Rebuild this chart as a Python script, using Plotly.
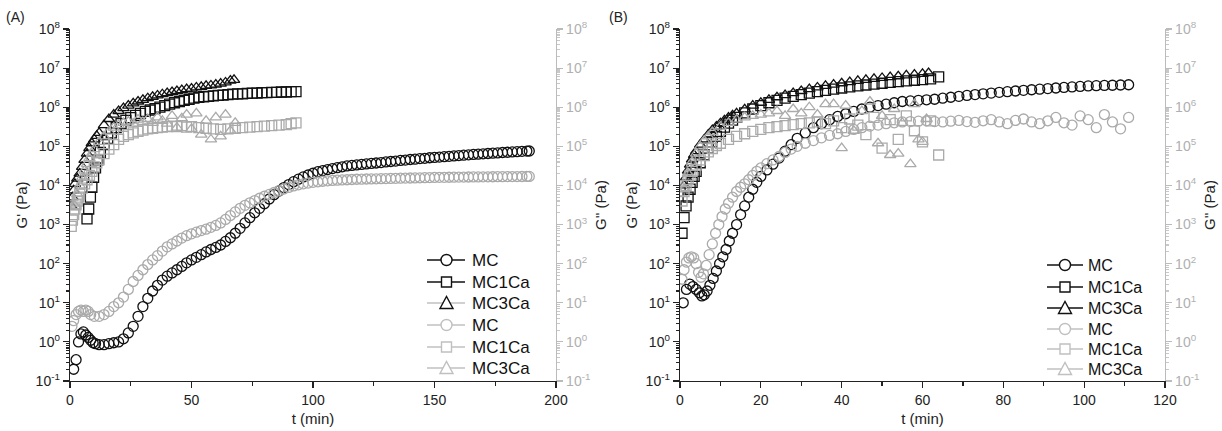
import plotly.graph_objects as go

# ---------------- Panel A data ----------------
a_mc_t = [1.5, 2.5, 3.5, 4.5, 5.5, 6.5, 7.5, 8.5, 9.5, 10.5, 12, 14, 16, 18, 20, 22, 24, 26, 28, 30, 32, 34, 36, 38, 40, 42, 44, 46, 48, 50, 52, 54, 56, 58, 60, 62, 64, 66, 68, 70, 72, 74, 76, 78, 80, 82, 84, 86, 88, 90, 92, 94, 96, 98, 100, 102, 104, 106, 108, 110, 112, 114, 116, 118, 120, 122, 124, 126, 128, 130, 132, 134, 136, 138, 140, 142, 144, 146, 148, 150, 152, 154, 156, 158, 160, 162, 164, 166, 168, 170, 172, 174, 176, 178, 180, 182, 184, 186, 188, 189]
a_mc_g1 = [0.2, 0.35, 1.0, 1.6, 1.8, 1.5, 1.3, 1.1, 0.95, 0.9, 0.85, 0.85, 0.9, 0.95, 1.0, 1.2, 1.7, 2.5, 4.5, 8, 13, 20, 28, 38, 48, 58, 70, 85, 105, 125, 145, 170, 200, 230, 260, 300, 370, 460, 600, 800, 1100, 1500, 2000, 2600, 3400, 4500, 5800, 7200, 8800, 10500, 12500, 14500, 16500, 18500, 20500, 22500, 24000, 25500, 27000, 28500, 30000, 31500, 32500, 33500, 34500, 35500, 36500, 37500, 38500, 40000, 41000, 42000, 43500, 44500, 46000, 47000, 48500, 49500, 51000, 52000, 53000, 54500, 55500, 57000, 58000, 59500, 60500, 62000, 63000, 64500, 65500, 67000, 68000, 69500, 70500, 72000, 73000, 74500, 75500, 76000]

a_mc_t2 = [0.8, 1.5, 2.5, 3.5, 4.5, 5.5, 6.5, 7.5, 8.5, 10, 12, 14, 16, 18, 20, 22, 24, 26, 28, 30, 32, 34, 36, 38, 40, 42, 44, 46, 48, 50, 52, 54, 56, 58, 60, 62, 64, 66, 68, 70, 72, 74, 76, 78, 80, 82, 84, 86, 88, 90, 92, 94, 96, 98, 100, 102, 104, 106, 108, 110, 112, 114, 116, 118, 120, 122, 124, 126, 128, 130, 132, 134, 136, 138, 140, 142, 144, 146, 148, 150, 152, 154, 156, 158, 160, 162, 164, 166, 168, 170, 172, 174, 176, 178, 180, 182, 184, 186, 188, 189]
a_mc_g2 = [2.5, 3.5, 5, 6, 6.5, 6, 6.5, 6, 5, 4.5, 4.5, 5, 6, 8, 10, 14, 22, 35, 50, 70, 95, 125, 160, 210, 270, 320, 380, 450, 520, 580, 640, 700, 760, 850, 950, 1100, 1350, 1700, 2100, 2600, 3100, 3600, 4100, 4700, 5300, 5900, 6600, 7300, 8100, 8900, 9700, 10400, 11000, 11500, 12000, 12400, 12800, 13100, 13400, 13600, 13800, 14000, 14200, 14400, 14500, 14600, 14700, 14800, 14900, 15000, 15100, 15200, 15300, 15400, 15500, 15600, 15700, 15800, 15900, 16000, 16100, 16150, 16200, 16300, 16350, 16400, 16450, 16500, 16550, 16600, 16650, 16700, 16750, 16800, 16850, 16900, 16900, 16950, 17000, 17000]

a_mc1_t = [7, 7.7, 8.4, 9, 9.7, 10.5, 11.5, 12.5, 14, 15.5, 17, 19, 21, 23, 25, 27, 29, 31, 33, 35, 37, 39, 41, 43, 45, 47, 49, 51, 53, 55, 57, 59, 61, 63, 65, 67, 69, 71, 73, 75, 77, 79, 81, 83, 85, 87, 89, 91, 93]
a_mc1_g1 = [1400, 2500, 5000, 9000, 16000, 28000, 45000, 70000, 110000, 160000, 220000, 300000, 380000, 460000, 540000, 620000, 700000, 780000, 850000, 920000, 1000000, 1100000, 1200000, 1300000, 1400000, 1500000, 1600000, 1700000, 1800000, 1850000, 1900000, 1950000, 2000000, 2050000, 2100000, 2150000, 2200000, 2200000, 2250000, 2300000, 2300000, 2350000, 2350000, 2400000, 2400000, 2450000, 2450000, 2500000, 2500000]

a_mc3_t = [0.5, 1, 1.5, 2, 3, 4, 5, 6, 7, 8, 9, 10, 11, 12, 14, 16, 18, 20, 22, 24, 26, 28, 30, 32, 34, 36, 38, 40, 42, 44, 46, 48, 50, 52, 54, 56, 58, 60, 62, 64, 66, 67.5]
a_mc3_g1 = [3000, 5000, 7500, 11000, 15000, 20000, 30000, 45000, 65000, 90000, 120000, 150000, 185000, 220000, 350000, 500000, 650000, 800000, 950000, 1100000, 1250000, 1400000, 1550000, 1700000, 1850000, 2000000, 2150000, 2300000, 2450000, 2600000, 2750000, 2900000, 3000000, 3200000, 3300000, 3500000, 3600000, 3800000, 4000000, 4300000, 4800000, 5000000]

a_mc1_t2 = [0.5, 1, 1.5, 2, 2.5, 3, 3.5, 4, 5, 6, 7, 8, 9, 10, 11, 12, 14, 16, 18, 20, 22, 24, 26, 28, 30, 32, 34, 36, 38, 40, 42, 44, 46, 48, 50, 53, 56, 59, 62, 65, 68, 71, 74, 77, 80, 83, 86, 89, 91, 93]
a_mc1_g2 = [900, 1300, 1800, 2500, 3200, 4000, 5000, 6000, 8500, 11000, 14000, 18000, 23000, 30000, 38000, 46000, 65000, 85000, 110000, 150000, 180000, 200000, 220000, 240000, 260000, 280000, 290000, 300000, 310000, 320000, 330000, 320000, 340000, 310000, 320000, 300000, 290000, 280000, 270000, 280000, 290000, 300000, 310000, 320000, 330000, 340000, 350000, 360000, 380000, 400000]

a_mc3_t2 = [2, 3, 4, 5, 6, 7, 8, 9, 10, 12, 14, 16, 18, 20, 22, 24, 26, 28, 30, 32, 34, 36, 38, 40, 42, 44, 46, 48, 50, 52, 54, 56, 58, 60, 62, 64, 66, 68]
a_mc3_g2 = [3000, 6000, 10000, 16000, 24000, 35000, 50000, 65000, 85000, 130000, 180000, 240000, 300000, 350000, 400000, 430000, 380000, 480000, 420000, 500000, 400000, 550000, 450000, 380000, 600000, 300000, 520000, 650000, 280000, 700000, 200000, 450000, 150000, 550000, 180000, 650000, 250000, 400000]

# ---------------- Panel B data ----------------
b_mc_t = [0.8, 1.6, 2.4, 3.2, 4, 4.8, 5.4, 6, 6.7, 7.4, 8.2, 9, 9.8, 10.6, 11.4, 12.2, 13, 14, 15, 16, 17, 18, 19, 20, 21.5, 23, 24.5, 26, 27.5, 29, 31, 33, 35, 37, 39, 41, 43, 45, 47, 49, 51, 53, 55, 57, 59, 61, 63, 65, 67, 69, 71, 73, 75, 77, 79, 81, 83, 85, 87, 89, 91, 93, 95, 97, 99, 101, 103, 105, 107, 109, 111]
b_mc_g1 = [10, 22, 30, 26, 22, 18, 15, 16, 20, 28, 42, 65, 100, 150, 230, 380, 600, 1000, 1800, 3000, 5000, 8000, 12000, 17000, 25000, 35000, 50000, 75000, 110000, 160000, 220000, 300000, 380000, 480000, 580000, 680000, 780000, 900000, 1000000, 1100000, 1200000, 1300000, 1400000, 1450000, 1500000, 1550000, 1600000, 1700000, 1800000, 1900000, 2000000, 2100000, 2200000, 2300000, 2400000, 2500000, 2600000, 2700000, 2800000, 2900000, 3000000, 3100000, 3200000, 3300000, 3400000, 3500000, 3550000, 3600000, 3650000, 3700000, 3750000]

b_mc_t2 = [0.5, 1, 1.6, 2.2, 2.8, 3.4, 4, 4.6, 5.2, 5.8, 6.5, 7.2, 8, 8.8, 9.6, 10.4, 11.2, 12, 13, 14, 15, 16, 17, 18, 19, 20, 21.5, 23, 24.5, 26, 27.5, 29, 31, 33, 35, 37, 39, 41, 43, 45, 47, 49, 51, 53, 55, 57, 59, 61, 63, 65, 67, 69, 71, 73, 75, 77, 79, 81, 83, 85, 87, 89, 91, 93, 95, 97, 99, 101, 103, 105, 107, 109, 111]
b_mc_g2 = [40, 70, 110, 140, 150, 140, 100, 60, 45, 55, 90, 170, 320, 600, 1000, 1600, 2500, 3500, 5000, 7000, 9000, 11000, 14000, 18000, 23000, 28000, 36000, 45000, 55000, 70000, 85000, 100000, 120000, 140000, 165000, 190000, 210000, 240000, 270000, 300000, 330000, 350000, 380000, 400000, 420000, 430000, 440000, 450000, 430000, 420000, 440000, 460000, 430000, 410000, 450000, 480000, 420000, 380000, 460000, 500000, 420000, 380000, 450000, 550000, 400000, 350000, 600000, 480000, 300000, 650000, 420000, 280000, 550000]

b_mc1_t = [0.5, 1, 1.5, 2, 2.5, 3, 3.5, 4, 5, 6, 7, 8, 9, 10, 11, 12, 13, 14, 16, 18, 20, 22, 24, 26, 28, 30, 32, 34, 36, 38, 40, 42, 44, 46, 48, 50, 52, 54, 56, 58, 60, 62, 64]
b_mc1_g1 = [600, 1500, 3000, 5000, 8000, 12000, 17000, 23000, 38000, 60000, 90000, 130000, 180000, 240000, 310000, 390000, 470000, 550000, 720000, 900000, 1100000, 1300000, 1500000, 1700000, 1900000, 2100000, 2300000, 2500000, 2700000, 2900000, 3100000, 3300000, 3500000, 3700000, 3900000, 4100000, 4300000, 4500000, 4700000, 4900000, 5100000, 5300000, 6000000]

b_mc3_t = [1, 1.5, 2, 2.5, 3, 3.5, 4, 5, 6, 7, 8, 9, 10, 11, 12, 13, 14, 16, 18, 20, 22, 24, 26, 28, 30, 32, 34, 36, 38, 40, 42, 44, 46, 48, 50, 52, 54, 56, 58, 60, 61.5]
b_mc3_g1 = [10000, 16000, 24000, 34000, 46000, 60000, 75000, 110000, 150000, 200000, 260000, 320000, 390000, 460000, 540000, 620000, 700000, 880000, 1100000, 1300000, 1550000, 1800000, 2050000, 2300000, 2600000, 2900000, 3200000, 3500000, 3800000, 4100000, 4400000, 4700000, 5000000, 5300000, 5600000, 5900000, 6200000, 6500000, 6800000, 7100000, 7500000]

b_mc1_t2 = [0.5, 1, 1.5, 2, 2.5, 3, 4, 5, 6, 7, 8, 9, 10, 12, 14, 16, 18, 20, 22, 24, 26, 28, 30, 32, 34, 36, 38, 40, 42, 44, 46, 48, 50, 52, 54, 56, 58, 60, 62, 64]
b_mc1_g2 = [4000, 7000, 10000, 14000, 18000, 23000, 33000, 45000, 58000, 72000, 88000, 105000, 120000, 150000, 180000, 210000, 240000, 270000, 300000, 320000, 340000, 360000, 380000, 400000, 420000, 380000, 450000, 300000, 500000, 350000, 200000, 550000, 90000, 480000, 150000, 600000, 250000, 130000, 450000, 60000]

b_mc3_t2 = [1, 2, 3, 4, 5, 6, 7, 8, 10, 12, 14, 16, 18, 20, 22, 24, 26, 28, 30, 32, 34, 36, 38, 40, 41, 43, 45, 47, 49, 50, 52, 53, 54, 55, 57, 58, 59, 60, 61]
b_mc3_g2 = [8000, 20000, 40000, 65000, 100000, 140000, 180000, 230000, 320000, 400000, 480000, 550000, 600000, 650000, 700000, 800000, 600000, 900000, 700000, 1000000, 650000, 1200000, 1200000, 90000, 1100000, 250000, 800000, 1400000, 120000, 600000, 60000, 900000, 65000, 400000, 35000, 1200000, 150000, 130000, 500000]

series_names = ["MC", "MC1Ca", "MC3Ca"]
legend_labels = series_names + series_names
tick_exps = list(range(-1, 9))

BLACK = "#111111"
GRAY = "#aaaaaa"
LEG_GRAY = "#c0c0c0"
FONT = "Liberation Sans, Arial, sans-serif"
W, H = 1222, 431

fig = go.Figure()

def add(t, g, sym, color, xa, ya):
    fig.add_trace(go.Scatter(
        x=t, y=g, mode="markers", xaxis=xa, yaxis=ya, showlegend=False,
        marker=dict(symbol=sym, size=10, color=color, line=dict(width=1.3, color=color)),
    ))

# Panel A
add(a_mc1_t, a_mc1_g1, "square-open", BLACK, "x", "y")
add(a_mc3_t, a_mc3_g1, "triangle-up-open", BLACK, "x", "y")
add(a_mc_t, a_mc_g1, "circle-open", BLACK, "x", "y")
add(a_mc1_t2, a_mc1_g2, "square-open", GRAY, "x", "y2")
add(a_mc3_t2, a_mc3_g2, "triangle-up-open", GRAY, "x", "y2")
add(a_mc_t2, a_mc_g2, "circle-open", GRAY, "x", "y2")
# Panel B
add(b_mc1_t, b_mc1_g1, "square-open", BLACK, "x2", "y3")
add(b_mc3_t, b_mc3_g1, "triangle-up-open", BLACK, "x2", "y3")
add(b_mc_t, b_mc_g1, "circle-open", BLACK, "x2", "y3")
add(b_mc1_t2, b_mc1_g2, "square-open", GRAY, "x2", "y4")
add(b_mc3_t2, b_mc3_g2, "triangle-up-open", GRAY, "x2", "y4")
add(b_mc_t2, b_mc_g2, "circle-open", GRAY, "x2", "y4")

# ---------------- hand-drawn legends (pixel layout -> paper coords) ----------------
def px(x):
    return x / W

def py(y):
    return 1 - y / H

shapes = []
annotations = []

def legend_block(rows_y, line_x0, line_x1, sym_x, text_x, line_colors, sym_colors, fsize):
    kinds = ["circle", "square", "triangle"] * 2
    for i, yy in enumerate(rows_y):
        lc = line_colors[i]
        sc = sym_colors[i]
        shapes.append(dict(type="line", xref="paper", yref="paper",
                           x0=px(line_x0), x1=px(line_x1), y0=py(yy), y1=py(yy),
                           line=dict(color=lc, width=1.4)))
        r = 5.5
        k = kinds[i]
        if k == "circle":
            shapes.append(dict(type="circle", xref="paper", yref="paper",
                               x0=px(sym_x - r), x1=px(sym_x + r), y0=py(yy + r), y1=py(yy - r),
                               line=dict(color=sc, width=1.4), fillcolor="white"))
        elif k == "square":
            shapes.append(dict(type="rect", xref="paper", yref="paper",
                               x0=px(sym_x - r + 0.5), x1=px(sym_x + r - 0.5),
                               y0=py(yy + r - 0.5), y1=py(yy - r + 0.5),
                               line=dict(color=sc, width=1.4), fillcolor="white"))
        else:
            path = "M %f %f L %f %f L %f %f Z" % (
                px(sym_x - 6.5), py(yy + 5.5), px(sym_x + 6.5), py(yy + 5.5), px(sym_x), py(yy - 6.5))
            shapes.append(dict(type="path", xref="paper", yref="paper", path=path,
                               line=dict(color=sc, width=1.4), fillcolor="white"))
        annotations.append(dict(text=legend_labels[i], x=px(text_x), y=py(yy), xref="paper", yref="paper",
                                xanchor="left", yanchor="middle", showarrow=False,
                                font=dict(family=FONT, size=fsize, color="#111")))

legend_block([260, 282, 303, 325, 347, 368], 427, 465, 446.5, 470,
             [BLACK, BLACK, LEG_GRAY, LEG_GRAY, LEG_GRAY, LEG_GRAY],
             [BLACK, BLACK, BLACK, LEG_GRAY, LEG_GRAY, LEG_GRAY], 17)
legend_block([265, 287, 308, 329, 349, 369], 1047, 1083, 1065, 1086,
             [BLACK, BLACK, BLACK, LEG_GRAY, LEG_GRAY, LEG_GRAY],
             [BLACK, BLACK, BLACK, LEG_GRAY, LEG_GRAY, LEG_GRAY], 16)

annotations += [
    dict(text="(A)", x=px(4), y=py(17), xref="paper", yref="paper",
         xanchor="left", yanchor="middle", showarrow=False,
         font=dict(family=FONT, size=14, color="#222")),
    dict(text="(B)", x=px(607), y=py(17), xref="paper", yref="paper",
         xanchor="left", yanchor="middle", showarrow=False,
         font=dict(family=FONT, size=14, color="#222")),
]

major_vals = [10.0 ** k for k in tick_exps]
major_text = ["10<sup>%d</sup>" % k for k in tick_exps]
minor_vals = [d * 10.0 ** k for k in range(-1, 8) for d in range(2, 10)]

ydomain = [1 - 381 / H, 1 - 29 / H]
xA = [70 / W, 556 / W]
xB = [680 / W, 1165 / W]

def yleft(domain_anchor):
    return dict(
        type="log", range=[-1, 8], domain=ydomain, anchor=domain_anchor,
        tickvals=major_vals, ticktext=major_text, ticks="outside", ticklen=6,
        tickwidth=1.2, tickcolor="#222", showline=True, linecolor="#222", linewidth=1.3,
        showgrid=False, zeroline=False, automargin=False,
        tickfont=dict(family=FONT, size=14, color="#222"),
        minor=dict(tickvals=minor_vals, ticks="outside", ticklen=3, tickcolor="#222", showgrid=False),
        title=dict(text="G' (Pa)", font=dict(family=FONT, size=15, color="#222"), standoff=4),
    )

def yright(overlay, anchor):
    return dict(
        type="log", range=[-1, 8], overlaying=overlay, side="right", anchor=anchor,
        tickvals=major_vals, ticktext=major_text, ticks="outside", ticklen=6,
        tickwidth=1.2, tickcolor="#bbbbbb", showline=True, linecolor="#bbbbbb", linewidth=1.3,
        showgrid=False, zeroline=False, automargin=False,
        tickfont=dict(family=FONT, size=14, color="#b0b0b0"),
        minor=dict(tickvals=minor_vals, ticks="outside", ticklen=3, tickcolor="#c8c8c8", showgrid=False),
        title=dict(text="G'' (Pa)", font=dict(family=FONT, size=15, color="#222"), standoff=6),
    )

def xbottom(domain, anchor, rng, dtick):
    return dict(
        domain=domain, anchor=anchor, range=rng, dtick=dtick, tick0=0,
        ticks="outside", ticklen=6, tickwidth=1.2, tickcolor="#222",
        showline=True, linecolor="#222", linewidth=1.3, showgrid=False, zeroline=False,
        automargin=False,
        tickfont=dict(family=FONT, size=14, color="#222"),
        minor=dict(dtick=dtick / 2, ticks="outside", ticklen=4, tickcolor="#222", showgrid=False),
        title=dict(text="t (min)", font=dict(family=FONT, size=15, color="#222"), standoff=6),
    )

def xtop(overlay, anchor, rng, dtick):
    return dict(
        overlaying=overlay, side="top", anchor=anchor, range=rng, dtick=dtick / 2, tick0=0,
        ticks="inside", ticklen=5, tickwidth=1.2, tickcolor="#222",
        showline=True, linecolor="#222", linewidth=1.3, showgrid=False, zeroline=False,
        showticklabels=False, automargin=False,
    )

fig.update_layout(
    width=W, height=H,
    margin=dict(l=0, r=0, t=0, b=0, autoexpand=False),
    paper_bgcolor="white", plot_bgcolor="white",
    font=dict(family=FONT, size=14, color="#222"),
    showlegend=False,
    xaxis=xbottom(xA, "y", [0, 200], 50),
    yaxis=yleft("x"),
    yaxis2=yright("y", "x"),
    xaxis3=xtop("x", "y", [0, 200], 50),
    xaxis2=xbottom(xB, "y3", [0, 120], 20),
    yaxis3=yleft("x2"),
    yaxis4=yright("y3", "x2"),
    xaxis4=xtop("x2", "y3", [0, 120], 20),
    shapes=shapes,
    annotations=annotations,
)

fig.write_html(
    "out.html",
    config={"displayModeBar": False, "staticPlot": True},
    post_script="document.body.style.margin='0';document.body.style.overflow='hidden';",
)
